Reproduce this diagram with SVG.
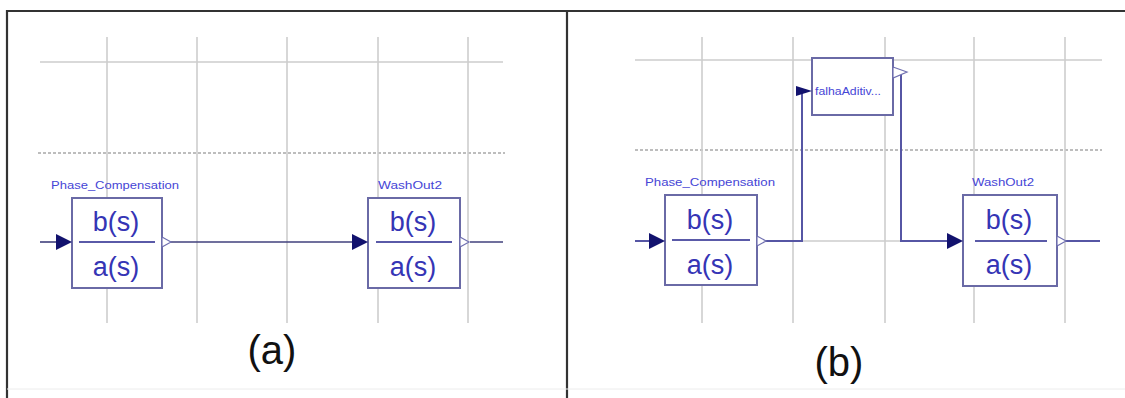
<svg xmlns="http://www.w3.org/2000/svg" width="1125" height="398" viewBox="0 0 1125 398">
<style>
.grid{stroke:#cdcdcd;stroke-width:1.6;fill:none}
.dash{stroke:#a8a8a8;stroke-width:1.6;stroke-dasharray:3 2;fill:none}
.box{fill:#ffffff;stroke:#6a6aa6;stroke-width:2}
.frac{stroke:#5a5aa8;stroke-width:2}
.tf{font-family:"Liberation Sans",Arial,sans-serif;font-size:27px;fill:#3535b5;text-anchor:middle}
.lbl{font-family:"Liberation Sans",Arial,sans-serif;font-size:11px;fill:#4646d6;text-anchor:middle}
.cap{font-family:"Liberation Sans",Arial,sans-serif;font-size:40px;fill:#111;text-anchor:middle}
.wire{stroke:#40407c;stroke-width:1.6;fill:none}
.wireb{stroke:#5656a4;stroke-width:2;fill:none}
.in{fill:#12126e}
.out{fill:#fff;stroke:#7070b0;stroke-width:1.2}
.frame{stroke:#333;stroke-width:2.2;fill:none}
</style>
<rect width="1125" height="398" fill="#fff"/>
<g id="frame">
<path class="frame" d="M7,398 V11 H1125 M567,11 V398"/>
<line x1="7" y1="389" x2="1125" y2="389" stroke="#ececec" stroke-width="1"/>
</g>
<g id="grid-a">
<line class="grid" x1="40" y1="62" x2="503" y2="62"/>
<line class="dash" x1="38" y1="153" x2="505" y2="153"/>
<line class="grid" x1="107" y1="37" x2="107" y2="323"/>
<line class="grid" x1="197" y1="37" x2="197" y2="323"/>
<line class="grid" x1="287" y1="37" x2="287" y2="323"/>
<line class="grid" x1="378" y1="37" x2="378" y2="323"/>
<line class="grid" x1="468" y1="37" x2="468" y2="323"/>
</g>
<g id="grid-b">
<line class="grid" x1="635" y1="60" x2="1102" y2="60"/>
<line class="dash" x1="635" y1="150" x2="1102" y2="150"/>
<line class="grid" x1="702" y1="37" x2="702" y2="323"/>
<line class="grid" x1="793" y1="37" x2="793" y2="323"/>
<line class="grid" x1="885" y1="37" x2="885" y2="323"/>
<line class="grid" x1="974" y1="37" x2="974" y2="323"/>
<line class="grid" x1="1065" y1="37" x2="1065" y2="323"/>
<line class="grid" x1="802" y1="241" x2="902" y2="241"/>
</g>
<g id="connectors">
<line class="wire" x1="40" y1="242" x2="60" y2="242"/>
<line class="wire" x1="170" y1="242" x2="356" y2="242"/>
<line class="wire" x1="470" y1="242" x2="503" y2="242"/>
<line class="wireb" x1="635" y1="241" x2="652" y2="241"/>
<path class="wireb" d="M765,241 H802 V91"/>
<path class="wireb" d="M901,75 V241 H952"/>
<line class="wireb" x1="1065" y1="241" x2="1100" y2="241"/>
</g>
<g id="a-phase-compensation">
<text class="lbl" x="115" y="189" textLength="128" lengthAdjust="spacingAndGlyphs">Phase_Compensation</text>
<rect class="box" x="72" y="198" width="90" height="90"/>
<text class="tf" x="116" y="231">b(s)</text>
<line class="frac" x1="79" y1="242" x2="155" y2="242"/>
<text class="tf" x="116" y="276">a(s)</text>
<polygon class="in" points="56,234 72,242 56,250"/>
<polygon class="out" points="162,237 171,242 162,247"/>
</g>
<g id="a-washout2">
<text class="lbl" x="410" y="189" textLength="64" lengthAdjust="spacingAndGlyphs">WashOut2</text>
<rect class="box" x="368" y="198" width="92" height="90"/>
<text class="tf" x="413" y="231">b(s)</text>
<line class="frac" x1="376" y1="242" x2="452" y2="242"/>
<text class="tf" x="413" y="276">a(s)</text>
<polygon class="in" points="352,234 368,242 352,250"/>
<polygon class="out" points="460,237 469,242 460,247"/>
</g>
<g id="b-phase-compensation">
<text class="lbl" x="710" y="186" textLength="130" lengthAdjust="spacingAndGlyphs">Phase_Compensation</text>
<rect class="box" x="665" y="195" width="92" height="90"/>
<text class="tf" x="710" y="229">b(s)</text>
<line class="frac" x1="672" y1="240" x2="750" y2="240"/>
<text class="tf" x="710" y="274">a(s)</text>
<polygon class="in" points="649,233 665,241 649,249"/>
<polygon class="out" points="757,236 766,241 757,246"/>
</g>
<g id="b-falha-aditiva">
<rect class="box" x="812" y="58" width="81" height="57"/>
<text x="815" y="95" font-family="Liberation Sans, Arial, sans-serif" font-size="10.5" fill="#4646d6" textLength="66" lengthAdjust="spacingAndGlyphs">falhaAditiv...</text>
<polygon class="in" points="796,86 812,91 796,96"/>
<polygon class="out" points="893,67 907,72 893,78"/>
</g>
<g id="b-washout2">
<text class="lbl" x="1003" y="186" textLength="62" lengthAdjust="spacingAndGlyphs">WashOut2</text>
<rect class="box" x="963" y="195" width="94" height="91"/>
<text class="tf" x="1009" y="229">b(s)</text>
<line class="frac" x1="975" y1="241" x2="1047" y2="241"/>
<text class="tf" x="1009" y="274">a(s)</text>
<polygon class="in" points="947,233 963,241 947,249"/>
<polygon class="out" points="1057,236 1066,241 1057,246"/>
</g>
<g id="captions">
<text class="cap" x="272" y="364">(a)</text>
<text class="cap" x="839" y="376">(b)</text>
</g>
</svg>
